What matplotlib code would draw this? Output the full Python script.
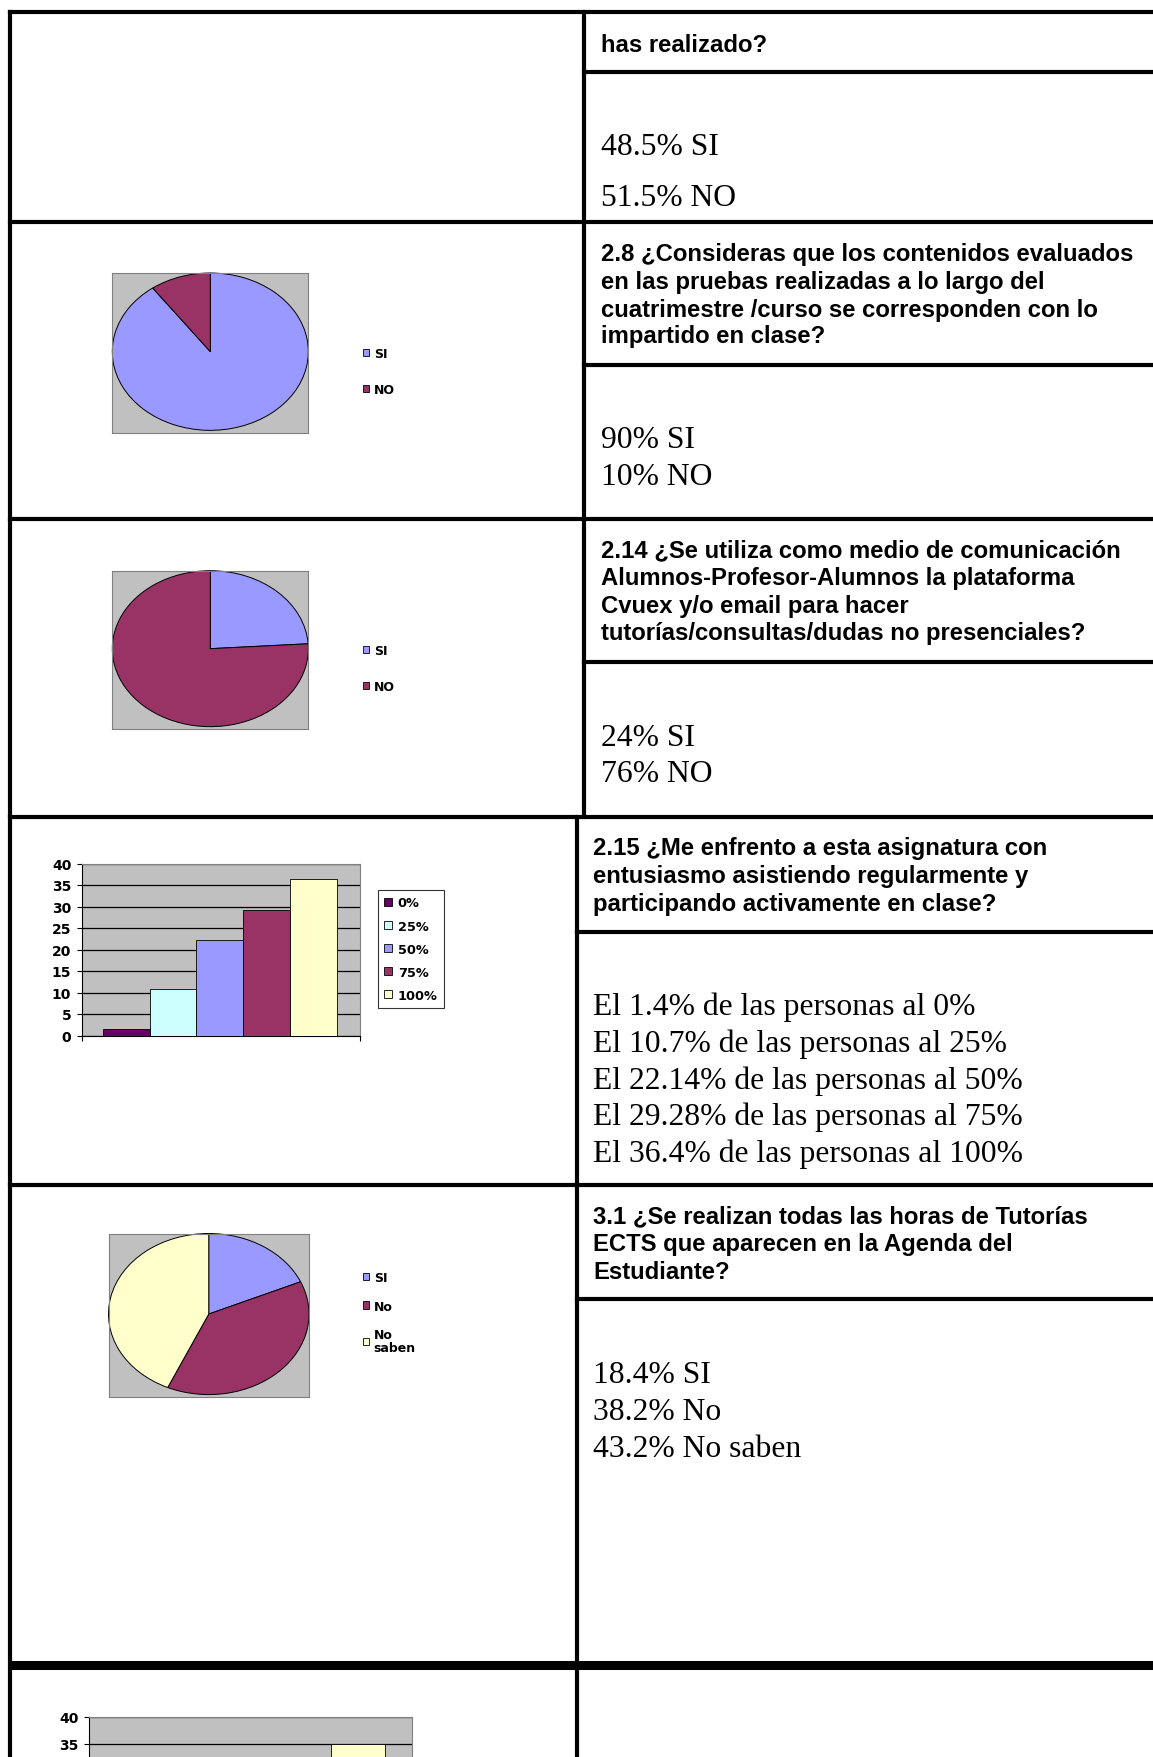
import numpy as np
import matplotlib
matplotlib.use("Agg")
import matplotlib.pyplot as plt
from matplotlib.patches import Patch

# ---------------- data ----------------
pie_labels_yn = ["SI", "NO"]
pie_28_values = [90, 10]
pie_214_values = [24, 76]
pie_31_labels = ["SI", "No", "No\nsaben"]
pie_31_values = [18.4, 38.2, 43.2]

bar_215_categories = ["0%", "25%", "50%", "75%", "100%"]
bar_215_values = [1.4, 10.7, 22.14, 29.28, 36.4]
bar_last_values = [np.nan, np.nan, np.nan, np.nan, 35.0]   # only the last bar is visible
bar_yticks = [0, 5, 10, 15, 20, 25, 30, 35, 40]

q_row1 = ["has realizado?"]
a_row1 = ["48.5% SI", "51.5% NO"]
q_row2 = ["2.8 ¿Consideras que los contenidos evaluados",
          "en las pruebas realizadas a lo largo del",
          "cuatrimestre /curso se corresponden con lo",
          "impartido en clase?"]
a_row2 = ["90% SI", "10% NO"]
q_row3 = ["2.14 ¿Se utiliza como medio de comunicación",
          "Alumnos-Profesor-Alumnos la plataforma",
          "Cvuex y/o email para hacer",
          "tutorías/consultas/dudas no presenciales?"]
a_row3 = ["24% SI", "76% NO"]
q_row4 = ["2.15 ¿Me enfrento a esta asignatura con",
          "entusiasmo asistiendo regularmente y",
          "participando activamente en clase?"]
a_row4 = ["El 1.4% de las personas al 0%",
          "El 10.7% de las personas al 25%",
          "El 22.14% de las personas al 50%",
          "El 29.28% de las personas al 75%",
          "El 36.4% de las personas al 100%"]
q_row5 = ["3.1 ¿Se realizan todas las horas de Tutorías",
          "ECTS que aparecen en la Agenda del",
          "Estudiante?"]
a_row5 = ["18.4% SI", "38.2% No", "43.2% No saben"]

# ---------------- style ----------------
C_SI = "#9999FF"
C_NO = "#993366"
C_NS = "#FFFFCC"
bar_colors = ["#660066", "#CCFFFF", "#9999FF", "#993366", "#FFFFCC"]
GRAY = "#C0C0C0"
BORDER = "#808080"
CHART_FONT = "DejaVu Sans"

W, H = 1153, 1758
fig = plt.figure(figsize=(W / 100, H / 100), dpi=100)

bg = fig.add_axes([0, 0, 1, 1], zorder=0)
bg.set_xlim(0, W)
bg.set_ylim(H, 0)
bg.axis("off")


def px_axes(x0, y0, x1, y1, **kw):
    return fig.add_axes([x0 / W, 1 - y1 / H, (x1 - x0) / W, (y1 - y0) / H], **kw)


# ---------------- table lines ----------------
LW = 3.0
def hline(y, x0, x1, lw=LW, cap="projecting"):
    bg.plot([x0, x1], [y, y], color="black", lw=lw, solid_capstyle=cap)

def vline(x, y0, y1, lw=LW):
    bg.plot([x, x], [y0, y1], color="black", lw=lw, solid_capstyle="projecting")

LEFT = 10
DIV1 = 584
DIV2 = 576.5
vline(LEFT, 13, H + 5)
vline(DIV1, 13, 818)
vline(DIV2, 818, H + 5)
for y in [13, 222.5, 520, 818, 1186]:
    hline(y, LEFT, W + 5)
hline(1666, LEFT - 2, W + 5, lw=6.5, cap="butt")
for y in [72.5, 366, 663]:
    hline(y, DIV1, W + 5)
for y in [933, 1300]:
    hline(y, DIV2, W + 5)

# ---------------- texts ----------------
QF = dict(family="Liberation Sans", weight="bold", fontsize=17.2, color="black")
AF = dict(family="Liberation Serif", fontsize=22.8, color="black")

def lines(x, baselines, texts, fmt):
    for b, t in zip(baselines, texts):
        bg.text(x, b, t, va="baseline", ha="left", **fmt)

lines(601, [52], q_row1, QF)
lines(601, [155, 206], a_row1, AF)
lines(601, [260.5, 288.5, 316.5, 343.5], q_row2, QF)
lines(601, [448.5, 485.5], a_row2, AF)
lines(601, [557.5, 585.5, 613, 640.5], q_row3, QF)
lines(601, [746, 782], a_row3, AF)
lines(593, [855, 883, 911], q_row4, QF)
lines(593, [1015, 1052, 1089, 1125, 1162], a_row4, AF)
lines(593, [1223, 1251, 1279], q_row5, QF)
lines(593, [1383, 1420, 1457], a_row5, AF)


# ---------------- pies ----------------
def pie_chart(box, values, colors, labels, leg_xy, spacing):
    ax = px_axes(*box)
    ax.pie(values, colors=colors, startangle=90, counterclock=False,
           wedgeprops=dict(edgecolor="black", linewidth=0.7))
    ax.set_aspect("auto")
    ax.set_xlim(-1.0, 1.0)
    ax.set_ylim(-1.03, 1.0)
    ax.set_frame_on(True)
    ax.set_facecolor(GRAY)
    for s in ax.spines.values():
        s.set_color(BORDER)
        s.set_linewidth(0.8)
    ax.set_xticks([])
    ax.set_yticks([])
    handles = [Patch(facecolor=c, edgecolor="black", linewidth=0.6) for c in colors]
    leg = ax.legend(handles, labels, loc="upper left",
                    bbox_to_anchor=(leg_xy[0] / W, 1 - leg_xy[1] / H),
                    bbox_transform=fig.transFigure, frameon=False,
                    prop=dict(family=CHART_FONT, weight="bold", size=9),
                    handlelength=0.55, handleheight=0.55, handletextpad=0.35,
                    labelspacing=spacing, borderpad=0, borderaxespad=0)
    for t in leg.get_texts():
        t.set_linespacing(0.95)
    return ax

pie_chart((112.3, 274, 308.3, 433.7), pie_28_values, [C_SI, C_NO], pie_labels_yn,
          (362.5, 348), 1.82)
pie_chart((112.3, 571.7, 308.3, 730), pie_214_values, [C_SI, C_NO], pie_labels_yn,
          (362.5, 645), 1.82)
pie_chart((108.5, 1234.5, 309, 1398), pie_31_values, [C_SI, C_NO, C_NS], pie_31_labels,
          (362.5, 1272), 1.25)


# ---------------- bar charts ----------------
def bar_chart(box, values, yticks, show_legend, leg_xy=None):
    ax = px_axes(*box)
    ax.set_facecolor(GRAY)
    x = np.arange(len(values))
    ax.bar(x, values, width=1.0, color=bar_colors, edgecolor="black", linewidth=0.6,
           zorder=3)
    ax.set_xlim(-0.95, 5.0)
    ax.set_ylim(0, 40)
    ax.set_yticks(yticks)
    ax.yaxis.grid(True, color="black", linewidth=0.9, zorder=1)
    ax.set_axisbelow(True)
    ax.set_xticks([-0.95, 5.0])
    ax.set_xticklabels([])
    ax.tick_params(axis="both", direction="out", length=3.5, width=0.8, color="black")
    ax.tick_params(axis="y", labelsize=10, pad=4)
    for lab in ax.get_yticklabels():
        lab.set_fontweight("bold")
        lab.set_family(CHART_FONT)
    ax.spines["left"].set_color("black")
    ax.spines["bottom"].set_color("black")
    ax.spines["top"].set_color(BORDER)
    ax.spines["right"].set_color(BORDER)
    for s in ax.spines.values():
        s.set_linewidth(0.8)
    if show_legend:
        handles = [Patch(facecolor=c, edgecolor="black", linewidth=0.6) for c in bar_colors]
        leg = ax.legend(handles, bar_215_categories, loc="upper left",
                        bbox_to_anchor=(leg_xy[0] / W, 1 - leg_xy[1] / H),
                        bbox_transform=fig.transFigure, frameon=True, fancybox=False,
                        edgecolor="black",
                        prop=dict(family=CHART_FONT, weight="bold", size=9.3),
                        handlelength=0.6, handleheight=0.6, handletextpad=0.45,
                        labelspacing=0.78, borderpad=0.5, borderaxespad=0)
        leg.get_frame().set_linewidth(0.8)
    return ax

bar_chart((81.7, 864.5, 360, 1036.5), bar_215_values, bar_yticks, True, (377.7, 891))
bar_chart((89, 1718, 412, 1930), bar_last_values, bar_yticks, False)

fig.savefig("out.png", dpi=100)
